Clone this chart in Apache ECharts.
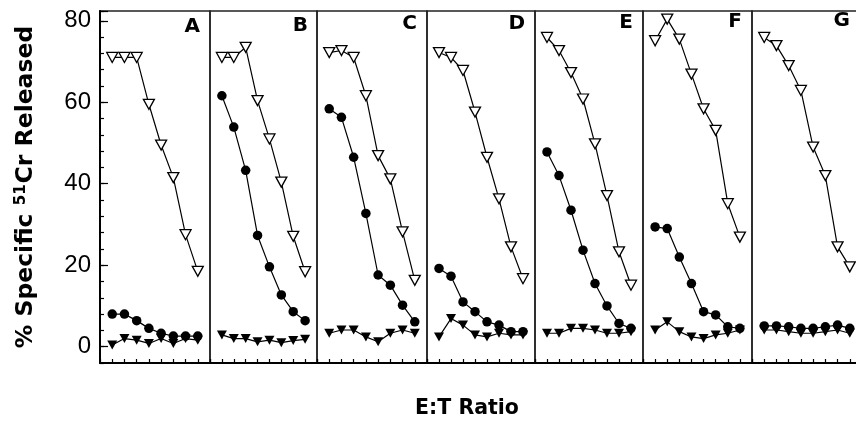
<!DOCTYPE html>
<html><head><meta charset="utf-8">
<script src="https://cdn.jsdelivr.net/npm/echarts@6/dist/echarts.min.js"></script>
<style>html,body{margin:0;padding:0;background:#fff}#c{width:856px;height:427px}</style>
</head><body><div id="c"></div>
<script>
// ---- data ----
const panels = ['A', 'B', 'C', 'D', 'E', 'F', 'G'];
const etRatioIndex = [1, 2, 3, 4, 5, 6, 7, 8];

const A_open   = [71.0, 71.0, 71.0, 59.5, 49.5, 41.5, 27.5, 18.5];
const A_circle = [8.0, 8.0, 6.4, 4.5, 3.3, 2.6, 2.6, 2.6];
const A_filled = [0.4, 2.0, 1.6, 0.8, 2.0, 0.8, 2.0, 1.6];

const B_open   = [71.0, 71.0, 73.5, 60.4, 51.0, 40.4, 27.1, 18.4];
const B_circle = [61.6, 53.9, 43.3, 27.3, 19.6, 12.7, 8.6, 6.4];
const B_filled = [2.9, 2.0, 2.0, 1.2, 1.6, 1.0, 1.5, 1.8];

const C_open   = [72.2, 72.7, 71.0, 61.6, 46.9, 41.2, 28.2, 16.3];
const C_circle = [58.4, 56.3, 46.5, 32.7, 17.6, 15.1, 10.2, 6.1];
const C_filled = [3.3, 4.1, 4.1, 2.4, 1.2, 3.3, 4.1, 3.3];

const D_open   = [72.2, 71.0, 67.8, 57.6, 46.5, 36.3, 24.5, 16.7];
const D_circle = [19.2, 17.3, 11.0, 8.6, 6.1, 5.3, 3.7, 3.7];
const D_filled = [2.4, 6.9, 5.3, 2.9, 2.4, 3.3, 2.9, 2.9];

const E_open   = [75.9, 72.7, 67.3, 60.8, 49.8, 37.1, 23.3, 15.1];
const E_circle = [47.8, 42.0, 33.5, 23.7, 15.5, 10.0, 5.7, 4.5];
const E_filled = [3.3, 3.3, 4.5, 4.5, 4.1, 3.3, 3.3, 3.7];

const F_open   = [75.1, 80.4, 75.5, 66.9, 58.4, 53.1, 35.1, 26.9];
const F_circle = [29.4, 29.0, 22.0, 15.5, 8.6, 7.8, 4.9, 4.5];
const F_filled = [4.1, 6.1, 3.7, 2.4, 2.0, 2.9, 3.3, 4.1];

const G_open   = [75.9, 73.9, 69.0, 62.9, 49.0, 42.0, 24.5, 19.6];
const G_circle = [5.1, 5.1, 4.9, 4.5, 4.5, 4.9, 5.3, 4.5];
const G_filled = [4.1, 4.1, 3.7, 3.3, 3.3, 3.7, 4.1, 3.3];

const openSeries   = [A_open, B_open, C_open, D_open, E_open, F_open, G_open];
const circleSeries = [A_circle, B_circle, C_circle, D_circle, E_circle, F_circle, G_circle];
const filledSeries = [A_filled, B_filled, C_filled, D_filled, E_filled, F_filled, G_filled];

const yName = '% Specific {sup|51}Cr Released';
const xName = 'E:T Ratio';

// ---- layout ----
const panelLeft  = [100, 210, 317, 427, 535, 643, 752];
const panelWidth = [110, 107, 110, 108, 108, 109, 110];
const plotTop = 11, plotHeight = 352;
const yMin = -4, yMax = 82.4;
const letterY = [27, 26, 24, 24, 23, 22, 21];
const letterInset = [10, 9, 10, 10, 10, 10, 12];

const grids = [], xAxes = [], yAxes = [], series = [], graphics = [];

panels.forEach((p, i) => {
  grids.push({
    left: panelLeft[i], top: plotTop, width: panelWidth[i], height: plotHeight,
    outerBoundsMode: 'none', containLabel: false,
    show: true, borderColor: '#222', borderWidth: 1.5, backgroundColor: 'transparent'
  });
  xAxes.push({
    gridIndex: i, type: 'value', min: 0, max: 9, interval: 1,
    axisLine: { show: true, onZero: false, lineStyle: { color: '#000', width: 2 } },
    axisTick: { show: true, inside: true, length: 4, lineStyle: { color: '#000', width: 1.2 } },
    axisLabel: { show: false }, splitLine: { show: false }
  });
  const y = {
    gridIndex: i, type: 'value', min: yMin, max: yMax, interval: 4,
    axisLine: { show: i === 0, onZero: false, lineStyle: { color: '#000', width: 2 } },
    axisTick: { show: i === 0, inside: true, length: 4, lineStyle: { color: '#000', width: 1.2 } },
    axisLabel: { show: false }, splitLine: { show: false }
  };
  if (i === 0) {
    y.name = yName;
    y.nameLocation = 'middle';
    y.nameGap = 62;
    y.nameTextStyle = {
      fontFamily: 'DejaVu Sans', fontWeight: 'bold', fontSize: 23.5, color: '#000',
      rich: { sup: { fontFamily: 'DejaVu Sans', fontWeight: 'bold', fontSize: 15, color: '#000', verticalAlign: 'top', padding: [0, 1, 0, 0] } }
    };
  }
  yAxes.push(y);

  const pts = arr => etRatioIndex.map((x, k) => [x, arr[k]]);
  const base = { type: 'line', xAxisIndex: i, yAxisIndex: i, animation: false,
    lineStyle: { color: '#000', width: 1.2 }, emphasis: { disabled: true } };
  series.push(Object.assign({}, base, {
    name: p + ' filled triangle', data: pts(filledSeries[i]), z: 2,
    symbol: 'triangle', symbolRotate: 180, symbolSize: [10, 9],
    itemStyle: { color: '#000' }
  }));
  series.push(Object.assign({}, base, {
    name: p + ' circle', data: pts(circleSeries[i]), z: 3,
    symbol: 'circle', symbolSize: 9.5,
    itemStyle: { color: '#000' }
  }));
  series.push(Object.assign({}, base, {
    name: p + ' open triangle', data: pts(openSeries[i]), z: 4,
    symbol: 'triangle', symbolRotate: 180, symbolSize: [11, 10],
    itemStyle: { color: '#fff', borderColor: '#000', borderWidth: 1.3 }
  }));

  graphics.push({
    type: 'text', x: panelLeft[i] + panelWidth[i] - letterInset[i], y: letterY[i], z: 10,
    style: { text: p, font: 'bold 20px "DejaVu Sans"', fill: '#000', textAlign: 'right', textVerticalAlign: 'middle' }
  });
});

// overlay axis for long major ticks and labels (0..80 step 20)
grids.push({ left: panelLeft[0], top: plotTop, width: panelWidth[0], height: plotHeight * (yMax / (yMax - yMin)),
  outerBoundsMode: 'none', containLabel: false });
xAxes.push({ gridIndex: 7, type: 'value', min: 0, max: 9, show: false });
yAxes.push({
  gridIndex: 7, type: 'value', min: 0, max: yMax, interval: 20,
  axisLine: { show: false },
  axisTick: { show: true, inside: true, length: 8, lineStyle: { color: '#000', width: 1.2 } },
  axisLabel: {
    show: true, margin: 9, fontFamily: 'Liberation Sans', fontSize: 24, color: '#000',
    formatter: v => (Math.round(v) % 20 === 0 && Math.abs(v - Math.round(v)) < 1e-6) ? String(Math.round(v)) : ''
  },
  splitLine: { show: false }
});

graphics.push({
  type: 'text', x: 467, y: 409,
  style: { text: xName, font: 'bold 20.5px "DejaVu Sans"', fill: '#000', textAlign: 'center', textVerticalAlign: 'middle' }
});

const chart = echarts.init(document.getElementById('c'), null, { renderer: 'canvas' });
chart.setOption({
  backgroundColor: '#fff',
  animation: false,
  grid: grids, xAxis: xAxes, yAxis: yAxes, series: series, graphic: graphics
});
</script></body></html>
